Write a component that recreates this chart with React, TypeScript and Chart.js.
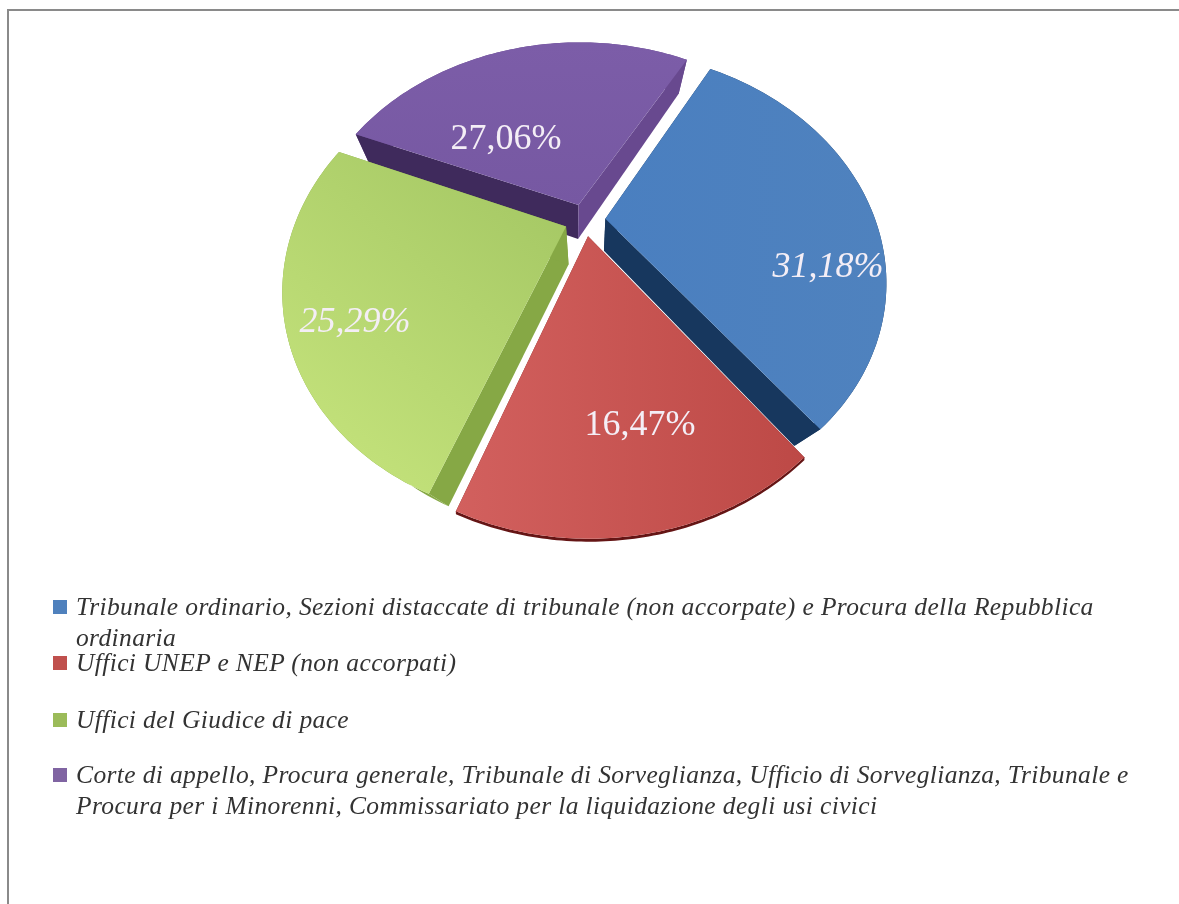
import React, { useEffect, useRef } from "react";
import { Chart, registerables } from "chart.js";

Chart.register(...registerables);

const categories = [
  "Tribunale ordinario, Sezioni distaccate di tribunale (non accorpate) e Procura della Repubblica\nordinaria",
  "Uffici UNEP e NEP (non accorpati)",
  "Uffici del Giudice di pace",
  "Corte di appello, Procura generale, Tribunale di Sorveglianza, Ufficio di Sorveglianza, Tribunale e\nProcura per i Minorenni, Commissariato per la liquidazione degli usi civici",
];
const values = [31.18, 16.47, 25.29, 27.06];

const legendColors = ["#4f81bd", "#c0504d", "#9bbb59", "#8064a2"];
const legendCenterY = [607, 663, 720, 775];
const faceStops = [
  ["#4a7fc0", "#4f82be"],
  ["#d2605e", "#bd4946"],
  ["#c8e67e", "#a2c562"],
  ["#7c5da8", "#7658a2"],
];
const faceDirs = [
  [0, 0, 1, 0],
  [0, 0, 1, 0],
  [0, 1, 1, 0],
  [0, 0, 0, 1],
];
// [start edge, end edge, rim]
const wallColors = [
  ["#17375e", "#17375e", "#17375e"],
  ["#7a2222", "#7a2222", "#651515"],
  ["#86a845", "#86a845", "#86a845"],
  ["#3f2a5c", "#68498f", "#68498f"],
];
// sx, vx, a, b: x' = vx + sx (x - vx); y' = y + a + b y
const wallMaps = [
  [0.885, 593, 47.8, -0.0725],
  [1, 590, 3, 0],
  [0.874, 586, 59.8, -0.096],
  [0.928, 573, 34, 0],
];
const labelAt = [
  [828, 268, true],
  [640, 426, false],
  [355, 323, true],
  [506, 140, false],
];
const drawOrder = [3, 2, 0, 1];

const view = { cx: 585, cy: 220, A: 270, B: 212.5, k: 0.2635 };

function project(u: number, v: number): [number, number] {
  const w = 1 - view.k * v;
  return [view.cx + (view.A * u) / w, view.cy + (view.B * v) / w];
}

function outline(el: any) {
  const { startAngle, endAngle, outerRadius } = el;
  const mid = (startAngle + endAngle) / 2;
  const off = (el.options.offset || 0) / outerRadius;
  const ox = Math.cos(mid) * off;
  const oy = Math.sin(mid) * off;
  const pts: [number, number][] = [];
  const n = 80;
  for (let i = 0; i <= n; i++) {
    const t = startAngle + ((endAngle - startAngle) * i) / n;
    pts.push(project(ox + Math.cos(t), oy + Math.sin(t)));
  }
  return { apex: project(ox, oy), rim: pts };
}

function fillPoly(ctx: CanvasRenderingContext2D, pts: [number, number][], color: any) {
  ctx.beginPath();
  pts.forEach((p, i) => (i ? ctx.lineTo(p[0], p[1]) : ctx.moveTo(p[0], p[1])));
  ctx.closePath();
  ctx.fillStyle = color;
  ctx.fill();
}

const perspectivePie = {
  id: "perspectivePie",
  beforeDatasetDraw(chart: any) {
    const ctx: CanvasRenderingContext2D = chart.ctx;
    const arcs = chart.getDatasetMeta(0).data;
    ctx.save();
    drawOrder.forEach((i) => {
      const { apex, rim } = outline(arcs[i]);
      const [sx, vx, a, b] = wallMaps[i];
      const down = (p: [number, number]): [number, number] => [vx + sx * (p[0] - vx), p[1] + a + b * p[1]];
      const first = rim[0];
      const last = rim[rim.length - 1];
      fillPoly(ctx, [...rim, ...rim.map(down).reverse()], wallColors[i][2]);
      fillPoly(ctx, [apex, first, down(first), down(apex)], wallColors[i][0]);
      fillPoly(ctx, [apex, last, down(last), down(apex)], wallColors[i][1]);
      const xs = rim.map((p) => p[0]).concat(apex[0]);
      const ys = rim.map((p) => p[1]).concat(apex[1]);
      const x0 = Math.min(...xs);
      const x1 = Math.max(...xs);
      const y0 = Math.min(...ys);
      const y1 = Math.max(...ys);
      const d = faceDirs[i];
      const g = ctx.createLinearGradient(
        x0 + (x1 - x0) * d[0],
        y0 + (y1 - y0) * d[1],
        x0 + (x1 - x0) * d[2],
        y0 + (y1 - y0) * d[3]
      );
      g.addColorStop(0, faceStops[i][0]);
      g.addColorStop(1, faceStops[i][1]);
      fillPoly(ctx, [apex, ...rim], g);
    });
    ctx.restore();
    return false;
  },
  afterDraw(chart: any) {
    const ctx: CanvasRenderingContext2D = chart.ctx;
    ctx.save();
    ctx.textAlign = "center";
    ctx.textBaseline = "middle";
    ctx.fillStyle = "#f4eef6";
    values.forEach((val, i) => {
      const [x, y, italic] = labelAt[i] as [number, number, boolean];
      ctx.font = `${italic ? "italic " : ""}36px "Liberation Serif"`;
      ctx.fillText(val.toFixed(2).replace(".", ",") + "%", x, y);
    });
    ctx.restore();
  },
};

export default function App() {
  const ref = useRef<HTMLCanvasElement>(null);
  useEffect(() => {
    const chart = new Chart(ref.current!, {
      type: "pie",
      data: {
        labels: categories,
        datasets: [{ data: values, backgroundColor: legendColors, borderWidth: 0, offset: 33 }],
      },
      options: {
        responsive: false,
        animation: false,
        rotation: 29.7,
        layout: { padding: 0 },
        plugins: { legend: { display: false }, tooltip: { enabled: false } },
      },
      plugins: [perspectivePie],
    } as any);
    return () => chart.destroy();
  }, []);
  return (
    <div style={{ position: "absolute", left: 0, top: 0, width: 1179, height: 904, background: "#fff", overflow: "hidden" }}>
      <canvas ref={ref} width={1179} height={904} style={{ position: "absolute", left: 0, top: 0, filter: "blur(0.5px)" }} />
      <div style={{ position: "absolute", left: 8, top: 9, width: 1171, height: 2, background: "#8a8a8a" }} />
      <div style={{ position: "absolute", left: 7, top: 9, width: 2, height: 895, background: "#8a8a8a" }} />
      {categories.map((c, i) => (
        <React.Fragment key={c}>
          <div
            style={{
              position: "absolute",
              left: 53,
              top: legendCenterY[i] - 7,
              width: 14,
              height: 14,
              background: legendColors[i],
            }}
          />
          <div
            style={{
              position: "absolute",
              left: 76,
              top: legendCenterY[i] - 16,
              whiteSpace: "pre",
              font: 'italic 25.5px/31px "Liberation Serif"',
              letterSpacing: "0.37px",
              color: "#333",
              filter: "blur(0.4px)",
            }}
          >
            {c}
          </div>
        </React.Fragment>
      ))}
    </div>
  );
}
